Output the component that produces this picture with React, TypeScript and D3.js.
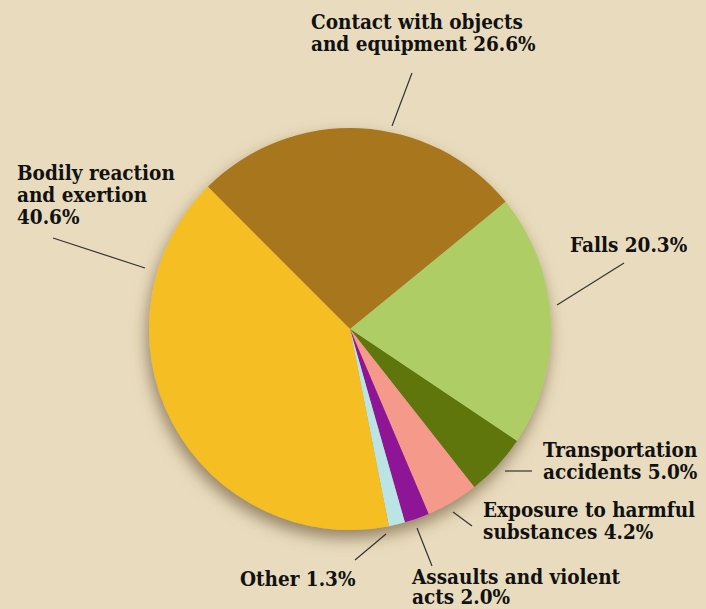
import React from 'react';
import * as d3 from 'd3';

const categories = ['Contact with objects and equipment', 'Falls', 'Transportation accidents', 'Exposure to harmful substances', 'Assaults and violent acts', 'Other', 'Bodily reaction and exertion'];
const values = [26.6, 20.3, 5.0, 4.2, 2.0, 1.3, 40.6];
const colors = ['#A8761F', '#AECE65', '#5E760E', '#F59A8A', '#8E1496', '#BBE4E5', '#F5BE22'];
const labelLines = [
  ['Contact with objects', 'and equipment 26.6%'],
  ['Falls 20.3%'],
  ['Transportation', 'accidents 5.0%'],
  ['Exposure to harmful', 'substances 4.2%'],
  ['Assaults and violent', 'acts 2.0%'],
  ['Other 1.3%'],
  ['Bodily reaction', 'and exertion', '40.6%'],
];

// label placement: text anchor + leader line end points
const layout = [
  { tx: 311, ty: 29, lh: 22, x1: 392, y1: 126, x2: 412, y2: 73 },
  { tx: 570, ty: 252, lh: 22, x1: 557, y1: 305, x2: 624, y2: 263 },
  { tx: 543, ty: 457, lh: 22, x1: 505, y1: 471, x2: 532, y2: 471 },
  { tx: 483, ty: 517, lh: 22, x1: 453, y1: 512, x2: 472, y2: 526 },
  { tx: 412, ty: 584, lh: 20, x1: 417, y1: 528, x2: 432, y2: 566 },
  { tx: 240, ty: 586, lh: 22, x1: 386, y1: 534, x2: 355, y2: 560 },
  { tx: 17, ty: 180, lh: 22, x1: 53, y1: 238, x2: 145, y2: 268 },
];

export default function App() {
  const width = 706, height = 609;
  const cx = 350, cy = 329, r = 201;

  const pie = d3.pie<number>().sort(null).value(d => d)
    .startAngle(-Math.PI / 4).endAngle(2 * Math.PI - Math.PI / 4);
  const arcs = pie(values);
  const arc = d3.arc<d3.PieArcDatum<number>>().innerRadius(0).outerRadius(r);

  return (
    <svg width={width} height={height} style={{ position: 'absolute', left: 0, top: 0, background: '#E9DCBE' }}>
      <defs>
        <filter id="shadow" x="-30%" y="-30%" width="160%" height="160%">
          <feDropShadow dx="-2" dy="8" stdDeviation="8" floodColor="#5a4525" floodOpacity="0.6" />
        </filter>
      </defs>
      <rect width={width} height={height} fill="#E9DCBE" />
      <g transform={`translate(${cx},${cy})`} filter="url(#shadow)">
        {arcs.map((a, i) => (
          <path key={i} d={arc(a) || ''} fill={colors[i]} />
        ))}
      </g>
      <g stroke="#333" strokeWidth={1.2}>
        {layout.map((l, i) => (
          <line key={i} x1={l.x1} y1={l.y1} x2={l.x2} y2={l.y2} />
        ))}
      </g>
      <g fontFamily="'DejaVu Serif Condensed', 'DejaVu Serif', serif" fontWeight="bold" fontSize={20.5} fill="#111">
        {labelLines.map((lines, i) => (
          <text key={categories[i]} x={layout[i].tx} y={layout[i].ty}>
            {lines.map((t, j) => (
              <tspan key={j} x={layout[i].tx} dy={j === 0 ? 0 : layout[i].lh}>{t}</tspan>
            ))}
          </text>
        ))}
      </g>
    </svg>
  );
}
